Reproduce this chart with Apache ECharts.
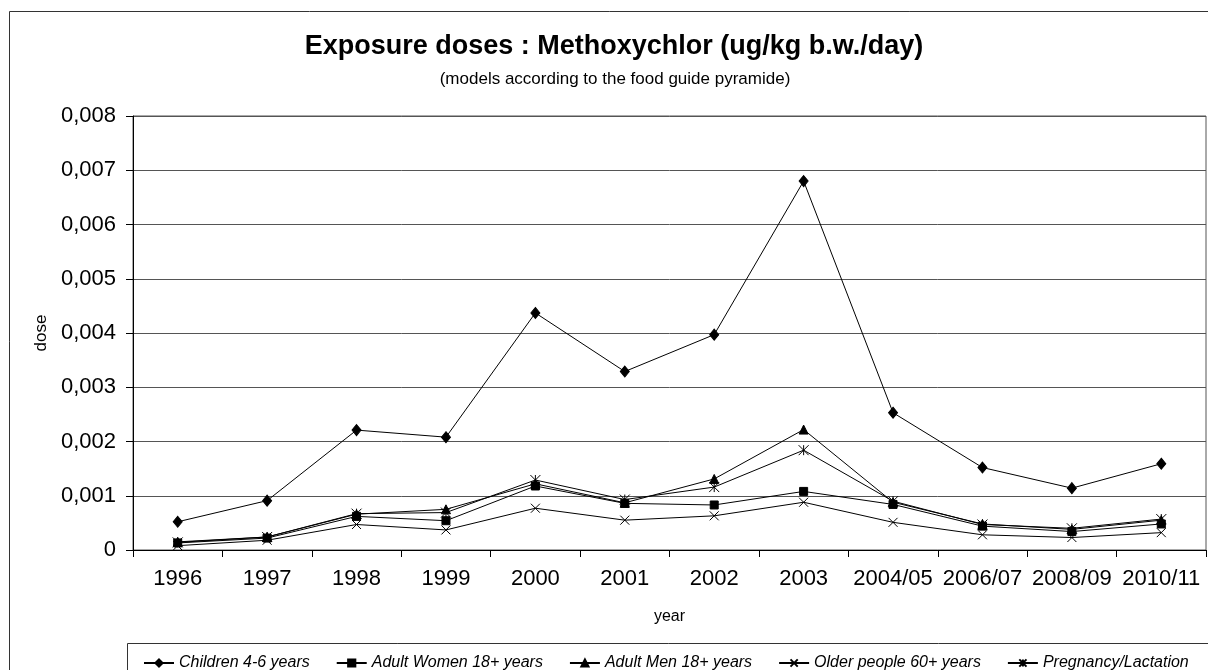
<!DOCTYPE html>
<html>
<head>
<meta charset="utf-8">
<script src="https://cdn.jsdelivr.net/npm/echarts@6/dist/echarts.min.js"></script>
<style>
  html, body { margin: 0; padding: 0; background: #fff; }
  #chart { width: 1208px; height: 670px; }
</style>
</head>
<body>
<div id="chart"></div>
<script>
  // values
  const years = ['1996', '1997', '1998', '1999', '2000', '2001', '2002', '2003', '2004/05', '2006/07', '2008/09', '2010/11']
  const children = [0.00052, 0.00091, 0.00221, 0.00208, 0.00437, 0.00329, 0.00397, 0.0068, 0.00253, 0.00152, 0.00114, 0.00159]
  const women = [0.00013, 0.00022, 0.00062, 0.00054, 0.00118, 0.00086, 0.00083, 0.00108, 0.00084, 0.00044, 0.00034, 0.00048]
  const men = [0.00015, 0.00024, 0.00066, 0.00075, 0.00122, 0.00087, 0.00131, 0.00222, 0.00088, 0.00048, 0.00038, 0.00055]
  const older = [0.00008, 0.00018, 0.00047, 0.00037, 0.00077, 0.00055, 0.00063, 0.00088, 0.00051, 0.00028, 0.00023, 0.00032]
  const pregnancy = [0.00014, 0.00024, 0.00067, 0.00069, 0.00129, 0.00093, 0.00116, 0.00184, 0.0009, 0.00047, 0.0004, 0.00057]

  const FONT = '"Liberation Sans", Arial, sans-serif'
  const CROSS = 'path://M0,0L10,10M0,10L10,0'
  const STAR = 'path://M0,0L10,10M0,10L10,0M5,0L5,10'

  const chart = echarts.init(document.getElementById('chart'), null, { renderer: 'canvas' })

  function lineSeries(name, data, symbol, size) {
    return {
      name: name,
      type: 'line',
      data: data,
      symbol: symbol,
      symbolSize: size,
      showAllSymbol: true,
      lineStyle: { color: '#000', width: 1 },
      itemStyle: { color: '#000', borderColor: '#000', borderWidth: 1 },
      emphasis: { disabled: true },
      z: 3,
    }
  }

  chart.setOption({
    animation: false,
    textStyle: { fontFamily: FONT },
    grid: {
      left: 133,
      right: 2,
      top: 116,
      bottom: 120,
      show: true,
      borderColor: '#555',
      borderWidth: 1,
    },
    graphic: [
      {
        type: 'rect',
        shape: { x: 9.5, y: 11.5, width: 1230, height: 700 },
        style: { fill: 'none', stroke: '#333', lineWidth: 1 },
        silent: true,
      },
      {
        type: 'rect',
        shape: { x: 127.5, y: 643.5, width: 1100, height: 60 },
        style: { fill: 'none', stroke: '#333', lineWidth: 1 },
        silent: true,
      },
      {
        type: 'text',
        x: 614,
        y: 47,
        style: {
          text: 'Exposure doses : Methoxychlor (ug/kg b.w./day)',
          font: 'bold 27px ' + FONT,
          fill: '#000',
          align: 'center',
          verticalAlign: 'middle',
        },
      },
      {
        type: 'text',
        x: 615,
        y: 79,
        style: {
          text: '(models according to the food guide pyramide)',
          font: '17px ' + FONT,
          fill: '#000',
          align: 'center',
          verticalAlign: 'middle',
        },
      },
    ],
    legend: {
      left: 138,
      top: 650,
      itemWidth: 30,
      itemHeight: 9,
      itemGap: 26,
      textStyle: { fontSize: 16, fontStyle: 'italic', color: '#000', fontFamily: FONT },
      data: ['Children 4-6 years', 'Adult Women 18+ years', 'Adult Men 18+ years', 'Older people 60+ years', 'Pregnancy/Lactation'],
    },
    xAxis: {
      type: 'category',
      data: years,
      boundaryGap: true,
      name: 'year',
      nameLocation: 'middle',
      nameGap: 59,
      nameTextStyle: { fontSize: 16, color: '#000' },
      axisLine: { lineStyle: { color: '#000', width: 1 } },
      axisTick: { show: true, length: 7, lineStyle: { color: '#000' } },
      axisLabel: { fontSize: 22, color: '#000', margin: 18, interval: 0 },
      splitLine: { show: false },
    },
    yAxis: {
      type: 'value',
      min: 0,
      max: 0.008,
      interval: 0.001,
      name: 'dose',
      nameLocation: 'middle',
      nameGap: 83,
      nameTextStyle: { fontSize: 17, color: '#000' },
      axisLine: { show: true, lineStyle: { color: '#000', width: 1 } },
      axisTick: { show: true, length: 7, lineStyle: { color: '#000' } },
      axisLabel: {
        fontSize: 22,
        color: '#000',
        margin: 17,
        formatter: function (v) {
          return v === 0 ? '0' : v.toFixed(3).replace('.', ',')
        },
      },
      splitLine: { show: true, lineStyle: { color: '#555', width: 1 } },
    },
    series: [
      lineSeries('Children 4-6 years', children, 'diamond', [9, 11]),
      lineSeries('Adult Women 18+ years', women, 'rect', 8),
      lineSeries('Adult Men 18+ years', men, 'triangle', 9),
      lineSeries('Older people 60+ years', older, CROSS, 9),
      lineSeries('Pregnancy/Lactation', pregnancy, STAR, 10),
    ],
  })
</script>
</body>
</html>
